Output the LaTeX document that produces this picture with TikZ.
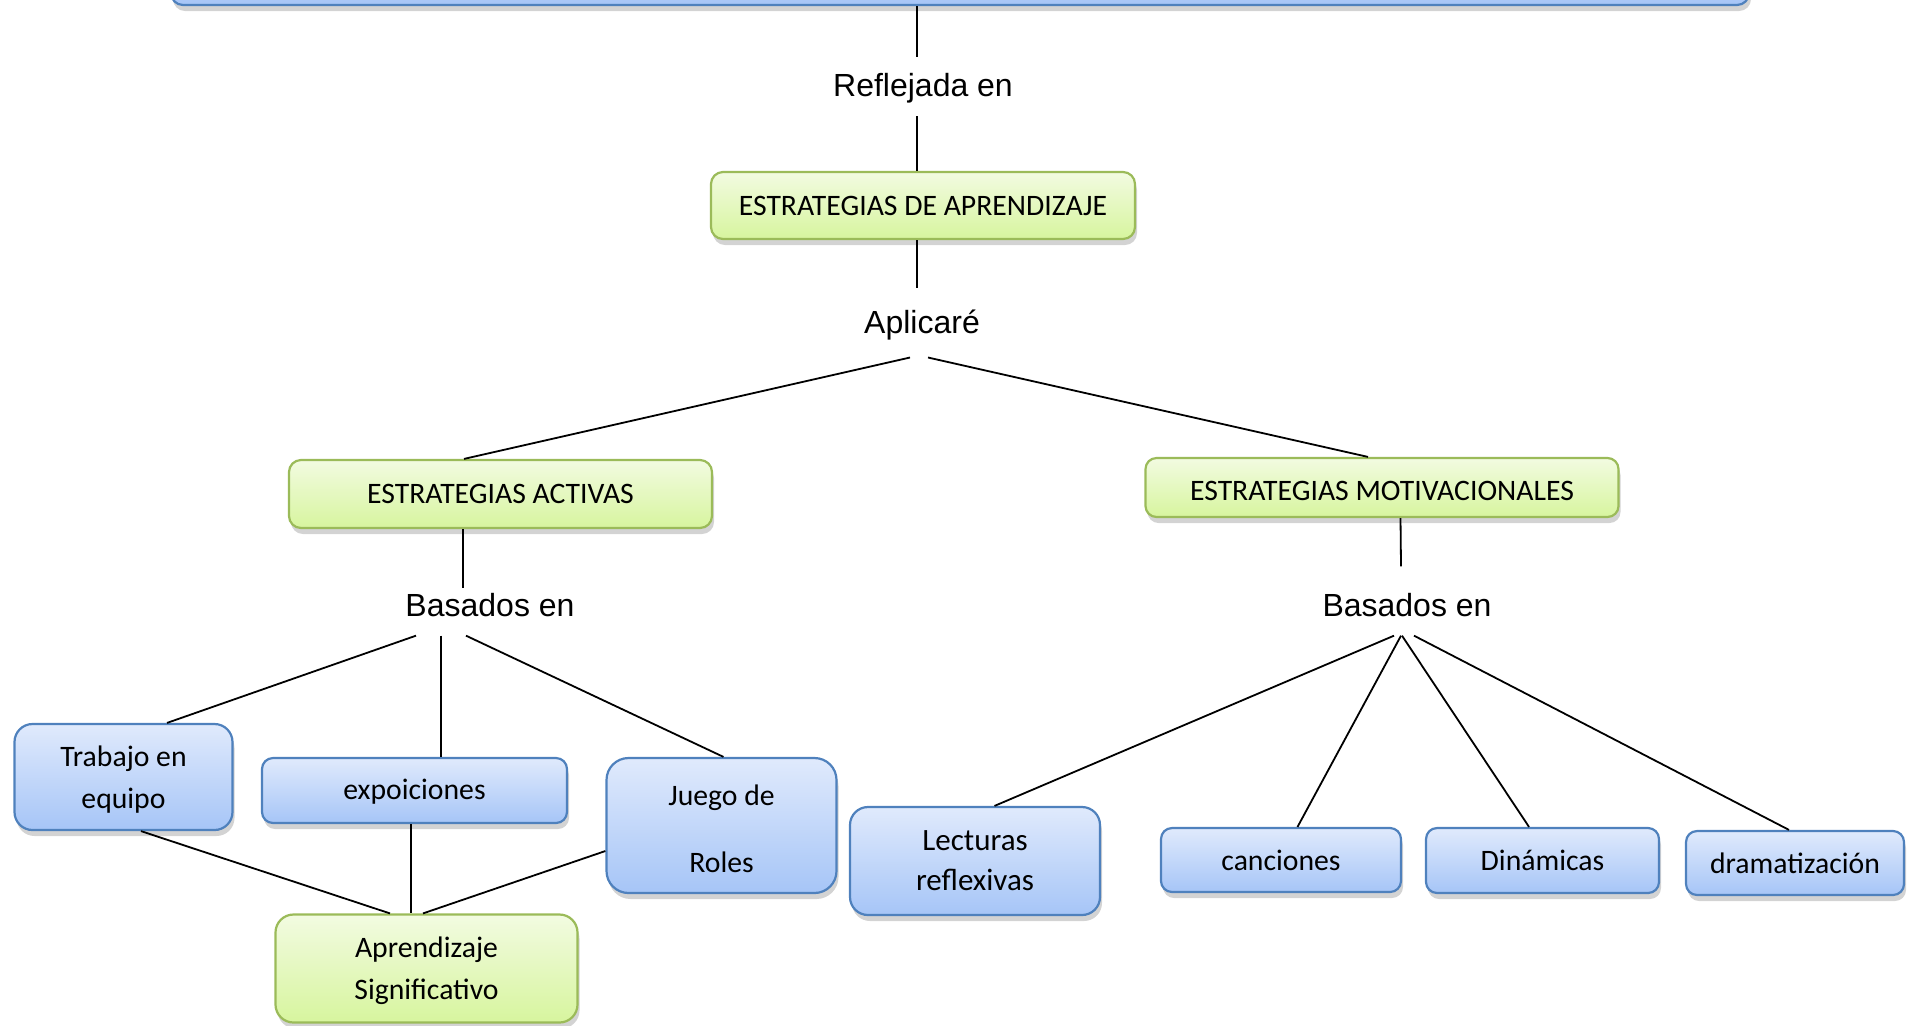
\documentclass[tikz,border=0pt]{standalone}
\usepackage{fontspec}
\setmainfont{Carlito}
\newfontfamily\arialf{Liberation Sans}
\usetikzlibrary{shadows}
\definecolor{bluebd}{RGB}{79,129,189}
\definecolor{bluetop}{RGB}{224,234,252}
\definecolor{bluebot}{RGB}{166,197,247}
\definecolor{greenbd}{RGB}{155,187,89}
\definecolor{greentop}{RGB}{242,251,225}
\definecolor{greenbot}{RGB}{215,245,158}
\begin{document}
\begin{tikzpicture}[x=0.5pt,y=-0.5pt,
  box/.style={draw, line width=1.1pt, align=center, inner sep=0pt,
    font=\fontsize{14.85}{21}\selectfont,
    drop shadow={shadow xshift=1pt,shadow yshift=-3pt,opacity=0.35}},
  bluebox/.style={box, draw=bluebd, top color=bluetop, bottom color=bluebot},
  greenbox/.style={box, draw=greenbd, top color=greentop, bottom color=greenbot},
  lbl/.style={inner sep=0pt, font=\arialf\fontsize{16}{19}\selectfont},
  conn/.style={line width=0.9pt}]
\useasboundingbox (0,0) rectangle (1915,1025);

% boxes
\node[bluebox, minimum width=789pt, minimum height=40pt, rounded corners=6pt] (top) at (960,-35) {};
\node[greenbox, minimum width=212pt, minimum height=33.5pt, rounded corners=6pt] (ea) at (923,205.5) {ESTRATEGIAS DE APRENDIZAJE};
\node[greenbox, minimum width=211.5pt, minimum height=34pt, rounded corners=6pt] (act) at (500.5,494) {ESTRATEGIAS ACTIVAS};
\node[greenbox, minimum width=236.5pt, minimum height=29.5pt, rounded corners=5.5pt] (mot) at (1382,487.5) {\rule{0pt}{13.3pt}ESTRATEGIAS MOTIVACIONALES};
\node[bluebox, minimum width=109pt, minimum height=53pt, rounded corners=9pt, text depth=0pt] (trab) at (123.5,777) {Trabajo en\\equipo};
\node[bluebox, minimum width=152.5pt, minimum height=32.5pt, rounded corners=5.5pt, text depth=0.8pt] (expo) at (414.5,790.5) {expoiciones};
\node[bluebox, minimum width=115pt, minimum height=67.5pt, rounded corners=11pt] (juego) at (721.5,825.5) {\rule{0pt}{14pt}Juego de\\[12.5pt]Roles};
\node[greenbox, minimum width=151pt, minimum height=54pt, rounded corners=9pt, text depth=0pt] (aprend) at (426.5,968.5) {Aprendizaje\\Significativo};
\node[bluebox, minimum width=125pt, minimum height=54pt, rounded corners=9pt, font=\fontsize{15.5}{20}\selectfont] (lect) at (975,861) {Lecturas\\reflexivas};
\node[bluebox, minimum width=120pt, minimum height=32pt, rounded corners=5.5pt] (canc) at (1281,860) {canciones};
\node[bluebox, minimum width=116.5pt, minimum height=32.5pt, rounded corners=5.5pt] (dina) at (1542.5,860.5) {Dinámicas};
\node[bluebox, minimum width=109pt, minimum height=32pt, rounded corners=5.5pt] (drama) at (1795,863) {dramatización};

% linking phrases
\node[lbl] (refl) at (923,88.5) {Reflejada en};
\node[lbl] (aplic) at (922,325.5) {Aplicaré};
\node[lbl] (bas1) at (490,605) {Basados en};
\node[lbl] (bas2) at (1407,605) {Basados en};

% connectors
\draw[conn] ([xshift=-21.5pt]top.south) -- ([xshift=-3pt,yshift=8.25pt]refl.north);
\draw[conn] ([xshift=-3pt,yshift=-6.25pt]refl.south) -- ([xshift=-3pt]ea.north);
\draw[conn] ([xshift=-3pt]ea.south) -- ([xshift=-2.5pt,yshift=11.25pt]aplic.north);
\draw[conn] ([xshift=-6pt,yshift=-8.25pt]aplic.south) -- ([xshift=-18.25pt]act.north);
\draw[conn] ([xshift=3pt,yshift=-8.25pt]aplic.south) -- ([xshift=-7pt]mot.north);

\draw[conn] ([xshift=-18.75pt]act.south) -- ([xshift=-13.5pt,yshift=2.25pt]bas1.north);
\draw[conn] ([xshift=-37pt,yshift=-9.25pt]bas1.south) -- ([xshift=21.75pt]trab.north);
\draw[conn] ([xshift=-24.5pt,yshift=-9.25pt]bas1.south) -- ([xshift=13.25pt]expo.north);
\draw[conn] ([xshift=-12pt,yshift=-9.25pt]bas1.south) -- ([xshift=1pt]juego.north);

\draw[conn] ([xshift=9.25pt]mot.south) -- ([xshift=-3pt,yshift=13.25pt]bas2.north);
\draw[conn] ([xshift=-6.5pt,yshift=-9.25pt]bas2.south) -- ([xshift=9.75pt]lect.north);
\draw[conn] ([xshift=-3pt,yshift=-9.25pt]bas2.south) -- ([xshift=8.25pt]canc.north);
\draw[conn] ([xshift=-2.5pt,yshift=-9.25pt]bas2.south) -- ([xshift=-6.75pt]dina.north);
\draw[conn] ([xshift=3.5pt,yshift=-9.25pt]bas2.south) -- ([xshift=-3pt]drama.north);

\draw[conn] ([xshift=8.75pt]trab.south) -- ([xshift=-18.25pt]aprend.north);
\draw[conn] ([xshift=-1.75pt]expo.south) -- ([xshift=-7.75pt]aprend.north);
\draw[conn] ([yshift=-12.75pt]juego.west) -- ([xshift=-1.75pt]aprend.north);
\end{tikzpicture}
\end{document}
